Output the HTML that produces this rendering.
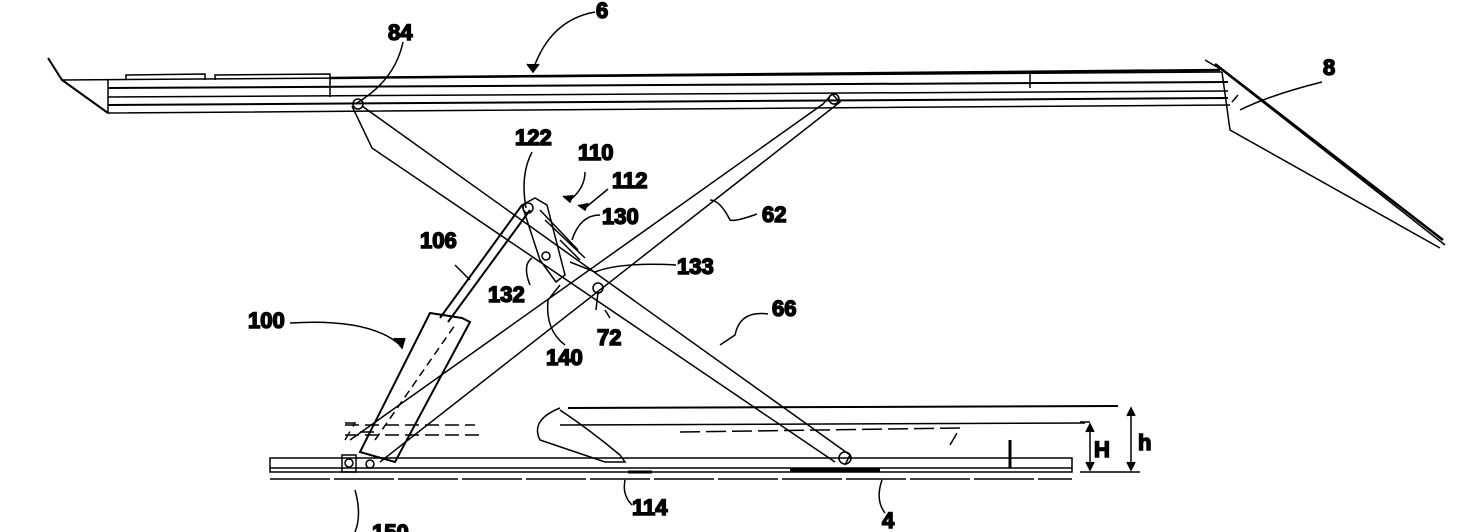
<!DOCTYPE html>
<html><head><meta charset="utf-8"><style>
html,body{margin:0;padding:0;background:#fff;}
svg{display:block;}
text{font-family:"Liberation Sans Narrow","Liberation Sans",sans-serif;font-weight:bold;font-size:22px;fill:#000;}
</style></head><body>
<svg width="1460" height="532" viewBox="0 0 1460 532" xmlns="http://www.w3.org/2000/svg" fill="none" stroke="#000" stroke-width="1.5">
<!-- top platform -->
<path d="M48 58 L62 80 L108 113" stroke-width="2"/>
<path d="M62 80 L1222 72"/>
<path d="M108 80 L108 113 L1230 105" />
<path d="M108 88 L1228 82" stroke-width="2"/>
<path d="M108 97 L1228 91" />
<path d="M108 105 L1228 98" stroke-width="2"/>
<path d="M126 80 L126 75 L205 74 L205 80 M215 80 L215 75 L330 74 L330 80 M330 80 L330 97 M1030 72 L1030 88"/>
<path d="M330 78 L1220 70" stroke-width="2.5"/>
<!-- right ramp -->
<path d="M1205 60 L1222 70 L1445 245" stroke-width="1.5"/>
<path d="M1215 64 L1443 240" stroke-width="2.5"/>
<path d="M1222 72 L1230 130 L1440 248" />
<path d="M1238 95 L1232 102"/>
<!-- arm 66 -->
<path d="M352 106 L372 148 L835 462"/>
<path d="M362 106 L850 455 L845 465"/>
<circle cx="358" cy="104" r="5"/>
<circle cx="845" cy="458" r="6"/>
<!-- arm 62 -->
<path d="M832 94 L840 102 L380 462"/>
<path d="M832 94 L823 104 L350 440"/>
<circle cx="834" cy="99" r="5"/>
<!-- linkage -->
<path d="M522 205 L535 198 L547 205 L565 275 L556 282 L540 260 Z"/>
<circle cx="528" cy="208" r="5"/>
<circle cx="546" cy="256" r="4"/>
<path d="M540 210 L578 250 M545 220 L585 258 M560 240 L580 260"/>
<circle cx="598" cy="288" r="5"/>
<path d="M598 292 L596 310"/>
<!-- cylinder -->
<path d="M462 318 L470 322 L395 462 L360 452 L430 313 Z" stroke-width="2"/>
<path d="M440 318 L522 205 M448 322 L530 210" stroke-width="2"/>
<path d="M375 440 L455 325" stroke-dasharray="8 5"/>
<rect x="342" y="455" width="14" height="17"/>
<circle cx="349" cy="463" r="4"/>
<circle cx="370" cy="464" r="4"/>
<!-- base -->
<path d="M270 458 L1072 458 L1072 472 L270 472 Z"/>
<path d="M270 468 L1072 468"/>
<path d="M270 479 L1072 479" stroke-dasharray="60 4"/>
<path d="M628 472 L652 472 M790 470 L880 470" stroke-width="3"/>
<path d="M1010 440 L1010 468" stroke-width="3"/>
<!-- lowered ghost -->
<path d="M568 408 L1118 406" stroke-width="2"/>
<path d="M560 425 L1085 423"/>
<path d="M345 423 L355 423 L345 440 M360 432 L380 432 M345 425 L475 425 M345 435 L480 435" stroke-dasharray="14 6"/>
<path d="M560 408 Q530 420 540 440 L605 462 L625 462 L620 455 Q590 430 560 410" />
<path d="M680 432 L960 428 L950 445" stroke-dasharray="20 6"/>
<path d="M1080 422 L1090 422 M1080 472 L1140 472"/>
<!-- H h dims -->
<path d="M1090 424 L1090 470 M1131 408 L1131 470"/>
<path d="M1086 432 L1090 424 L1094 432 M1086 462 L1090 470 L1094 462 M1127 416 L1131 408 L1135 416 M1127 462 L1131 470 L1135 462" fill="#000"/>
<!-- leader lines -->
<path d="M595 12 Q550 20 533 70"/>
<path d="M527 64 L533 72 L539 64" fill="#000"/>
<path d="M403 42 Q395 80 357 103"/>
<path d="M1322 82 Q1270 95 1240 110"/>
<path d="M532 152 Q520 175 526 208"/>
<path d="M585 172 Q585 188 570 200"/>
<path d="M563 196 L570 202 L573 195" fill="#000"/>
<path d="M608 189 L585 208"/>
<path d="M578 205 L585 210 L588 203" fill="#000"/>
<path d="M600 215 Q580 215 572 240"/>
<path d="M676 265 Q620 262 595 272 L570 262"/>
<path d="M757 214 Q735 222 730 220 Q720 200 710 200"/>
<path d="M455 265 Q465 275 470 280"/>
<path d="M532 258 Q522 265 530 285"/>
<path d="M565 345 Q545 330 548 300 L560 285"/>
<path d="M610 318 L605 310"/>
<path d="M768 314 Q740 310 735 335 L720 345"/>
<path d="M290 323 Q370 318 400 345"/>
<path d="M394 338 L402 348 L405 338" fill="#000"/>
<path d="M632 505 Q622 495 625 480"/>
<path d="M885 513 Q875 500 882 480"/>
<path d="M355 532 Q362 515 355 490"/>
<!-- labels -->
<text x="596" y="18">6</text>
<text x="388" y="40">84</text>
<text x="1323" y="75">8</text>
<text x="515" y="145">122</text>
<text x="578" y="160">110</text>
<text x="612" y="188">112</text>
<text x="602" y="224">130</text>
<text x="762" y="222">62</text>
<text x="420" y="248">106</text>
<text x="677" y="274">133</text>
<text x="488" y="302">132</text>
<text x="248" y="328">100</text>
<text x="772" y="316">66</text>
<text x="597" y="345">72</text>
<text x="546" y="365">140</text>
<text x="1094" y="457">H</text>
<text x="1138" y="450">h</text>
<text x="632" y="515">114</text>
<text x="882" y="528">4</text>
<text x="372" y="540">150</text>
</svg>
</body></html>
